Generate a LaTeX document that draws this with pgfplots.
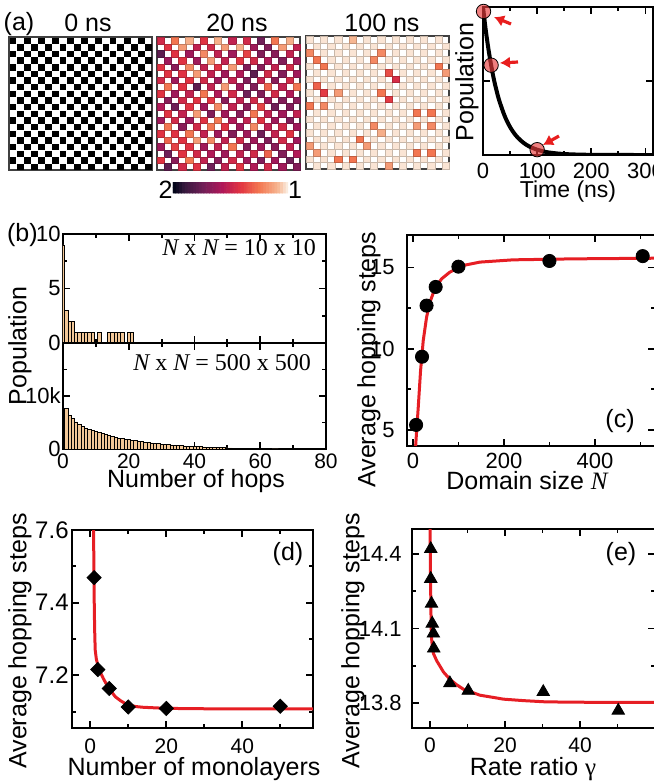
\documentclass[border=0pt]{standalone}
\usepackage{pgfplots}
\pgfplotsset{compat=1.18}
\usepackage{pgfplotstable}
\usepackage{fontspec}
\setmainfont{Liberation Sans}
\newfontfamily\tnr{Liberation Serif}
\usetikzlibrary{arrows.meta}

\definecolor{fitred}{RGB}{230,30,36}
\definecolor{barfill}{RGB}{243,200,152}
\definecolor{dotred}{RGB}{232,60,60}
\definecolor{arrred}{RGB}{232,30,30}

\newcommand\lf{\fontsize{12.5}{15}\selectfont}
\newcommand\tf{\fontsize{11}{13}\selectfont}

\pgfplotsset{
  colormap={rocketmap}{rgb255(0cm)=(250,235,221); rgb255(1cm)=(246,180,143); rgb255(3cm)=(243,118,81); rgb255(5cm)=(225,51,66); rgb255(7cm)=(173,23,89); rgb255(9cm)=(112,31,87); rgb255(11cm)=(53,25,62); rgb255(12cm)=(3,5,26)},
  frame/.style={scale only axis, anchor=south west, axis line style={line width=1pt}, tick style={line width=0.9pt, black}, major tick length=3.5pt, minor tick length=2.2pt, tick label style={font=\tf}, /pgf/number format/assume math mode=true},
  xgap/.style={xticklabel style={inner sep=0pt, yshift=-#1}},
  ygap/.style={yticklabel style={inner sep=0pt, xshift=-#1}},
  heat/.style={scale only axis, anchor=south west, width=71.5pt, height=66.5pt, xmin=-0.5, xmax=19.5, ymin=-0.5, ymax=19.5, y dir=reverse, ticks=none, axis line style={line width=0.7pt, black!75}, colormap name=rocketmap, point meta min=1, point meta max=2},
  cell/.style={only marks, mark=square*, mark size=1.79pt, mark options={yscale=0.93, line width=0.1pt}},
}

% 20 ns occupation of the checkerboard sites (column, row, value)
\pgfplotstableread[row sep=\\]{
c r v\\
0 0 1.47\\ 2 0 1.25\\ 4 0 1.1\\ 6 0 1.42\\ 8 0 1.1\\ 10 0 1.52\\ 12 0 1.47\\ 14 0 1.75\\ 16 0 1.25\\ 18 0 1.1\\
1 1 1.42\\ 3 1 1.15\\ 5 1 1.52\\ 7 1 1.47\\ 9 1 1.15\\ 11 1 1.1\\ 13 1 1.62\\ 15 1 1.7\\ 17 1 1.15\\ 19 1 1.52\\
0 2 1.8\\ 2 2 1.42\\ 4 2 1.62\\ 6 2 1.2\\ 8 2 1.52\\ 10 2 1.62\\ 12 2 1.38\\ 14 2 1.7\\ 16 2 1.68\\ 18 2 1.52\\
1 3 1.62\\ 3 3 1.42\\ 5 3 1.62\\ 7 3 1.15\\ 9 3 1.52\\ 11 3 1.42\\ 13 3 1.47\\ 15 3 1.57\\ 17 3 1.7\\ 19 3 1.62\\
0 4 1.42\\ 2 4 1.68\\ 4 4 1.2\\ 6 4 1.52\\ 8 4 1.42\\ 10 4 1.15\\ 12 4 1.7\\ 14 4 1.68\\ 16 4 1.52\\ 18 4 1.47\\
1 5 1.42\\ 3 5 1.42\\ 5 5 1.15\\ 7 5 1.52\\ 9 5 1.62\\ 11 5 1.57\\ 13 5 1.8\\ 15 5 1.47\\ 17 5 1.7\\ 19 5 1.62\\
0 6 1.47\\ 2 6 1.62\\ 4 6 1.42\\ 6 6 1.47\\ 8 6 1.62\\ 10 6 1.52\\ 12 6 1.7\\ 14 6 1.52\\ 16 6 1.68\\ 18 6 1.47\\
1 7 1.25\\ 3 7 1.42\\ 5 7 1.8\\ 7 7 1.52\\ 9 7 1.15\\ 11 7 1.62\\ 13 7 1.7\\ 15 7 1.3\\ 17 7 1.52\\ 19 7 1.25\\
0 8 1.42\\ 2 8 1.62\\ 4 8 1.52\\ 6 8 1.25\\ 8 8 1.57\\ 10 8 1.47\\ 12 8 1.75\\ 14 8 1.7\\ 16 8 1.47\\ 18 8 1.57\\
1 9 1.68\\ 3 9 1.47\\ 5 9 1.42\\ 7 9 1.42\\ 9 9 1.68\\ 11 9 1.52\\ 13 9 1.47\\ 15 9 1.62\\ 17 9 1.7\\ 19 9 1.68\\
0 10 1.57\\ 2 10 1.75\\ 4 10 1.42\\ 6 10 1.62\\ 8 10 1.2\\ 10 10 1.52\\ 12 10 1.68\\ 14 10 1.38\\ 16 10 1.75\\ 18 10 1.7\\
1 11 1.42\\ 3 11 1.52\\ 5 11 1.15\\ 7 11 1.7\\ 9 11 1.62\\ 11 11 1.68\\ 13 11 1.25\\ 15 11 1.52\\ 17 11 1.62\\ 19 11 1.52\\
0 12 1.62\\ 2 12 1.47\\ 4 12 1.62\\ 6 12 1.42\\ 8 12 1.25\\ 10 12 1.57\\ 12 12 1.52\\ 14 12 1.42\\ 16 12 1.62\\ 18 12 1.7\\
1 13 1.25\\ 3 13 1.68\\ 5 13 1.47\\ 7 13 1.25\\ 9 13 1.42\\ 11 13 1.62\\ 13 13 1.2\\ 15 13 1.52\\ 17 13 1.47\\ 19 13 1.62\\
0 14 1.42\\ 2 14 1.42\\ 4 14 1.25\\ 6 14 1.52\\ 8 14 1.62\\ 10 14 1.7\\ 12 14 1.62\\ 14 14 1.75\\ 16 14 1.52\\ 18 14 1.42\\
1 15 1.3\\ 3 15 1.42\\ 5 15 1.15\\ 7 15 1.2\\ 9 15 1.52\\ 11 15 1.47\\ 13 15 1.62\\ 15 15 1.7\\ 17 15 1.47\\ 19 15 1.62\\
0 16 1.62\\ 2 16 1.38\\ 4 16 1.42\\ 6 16 1.62\\ 8 16 1.52\\ 10 16 1.25\\ 12 16 1.7\\ 14 16 1.62\\ 16 16 1.68\\ 18 16 1.52\\
1 17 1.75\\ 3 17 1.42\\ 5 17 1.47\\ 7 17 1.57\\ 9 17 1.62\\ 11 17 1.52\\ 13 17 1.47\\ 15 17 1.3\\ 17 17 1.7\\ 19 17 1.57\\
0 18 1.42\\ 2 18 1.68\\ 4 18 1.25\\ 6 18 1.52\\ 8 18 1.68\\ 10 18 1.47\\ 12 18 1.62\\ 14 18 1.7\\ 16 18 1.62\\ 18 18 1.75\\
1 19 1.8\\ 3 19 1.47\\ 5 19 1.42\\ 7 19 1.75\\ 9 19 1.52\\ 11 19 1.42\\ 13 19 1.57\\ 15 19 1.47\\ 17 19 1.62\\ 19 19 1.7\\
}\mapB

% 100 ns: sites still clearly occupied (all other sites about 1.01)
\pgfplotstableread[row sep=\\]{
c r v\\
0 2 1.2\\ 1 3 1.25\\ 2 4 1.25\\ 10 2 1.2\\ 9 3 1.2\\ 18 4 1.25\\ 19 5 1.15\\ 11 5 1.35\\ 12 6 1.45\\ 1 7 1.3\\
2 8 1.4\\ 4 8 1.15\\ 10 8 1.25\\ 11 9 1.4\\ 0 10 1.25\\ 2 10 1.2\\ 15 11 1.25\\ 17 11 1.25\\ 9 13 1.2\\ 15 13 1.15\\
17 13 1.2\\ 10 14 1.1\\ 7 15 1.25\\ 8 16 1.15\\ 0 16 1.15\\ 1 17 1.15\\ 15 17 1.25\\ 17 17 1.25\\ 4 18 1.25\\ 6 18 1.25\\
11 19 1.15\\ 6 0 1.08\\
}\mapC

\begin{document}
\begin{tikzpicture}[x=0.5pt, y=-0.5pt]
\useasboundingbox (0,0) rectangle (654,783);

% ---------------- (a) ----------------
\node[anchor=base, font=\lf] at (19,30) {(a)};
\node[anchor=base, font=\lf] at (88,31.5) {0 ns};
\node[anchor=base, font=\lf] at (237,31.5) {20 ns};
\node[anchor=base, font=\lf] at (382,31.5) {100 ns};

\begin{axis}[heat, at={(4.5pt,-85pt)}]
\addplot[only marks, mark=square*, mark size=1.45pt, mark options={yscale=0.93, fill=black, draw=black, line width=0.1pt}] table[x=c, y=r] {\mapB};
\end{axis}

\begin{axis}[heat, at={(78.5pt,-85pt)}]
\addplot[scatter, cell, point meta=explicit] table[x=c, y=r, meta=v] {\mapB};
\end{axis}

\begin{axis}[heat, at={(153pt,-84.5pt)}]
\addplot[scatter, cell, point meta=explicit] table[x=c, y=r, meta expr=1.01] {\mapB};
\addplot[scatter, cell, point meta=explicit] table[x=c, y=r, meta=v] {\mapC};
\end{axis}

% colour bar
\begin{axis}[at={(86.5pt,-96.5pt)}, anchor=south west, scale only axis, width=57.5pt, height=5.5pt, hide axis,
  xmin=0.9875, xmax=2.0125, ymin=-0.5, ymax=1.5, x dir=reverse, colormap name=rocketmap, point meta min=1, point meta max=2]
\addplot[matrix plot*, mesh/cols=41, mesh/rows=2, point meta=x] coordinates {
(1.000,0) (1.025,0) (1.050,0) (1.075,0) (1.100,0) (1.125,0) (1.150,0) (1.175,0) (1.200,0) (1.225,0) (1.250,0) (1.275,0) (1.300,0) (1.325,0) (1.350,0) (1.375,0) (1.400,0) (1.425,0) (1.450,0) (1.475,0) (1.500,0) (1.525,0) (1.550,0) (1.575,0) (1.600,0) (1.625,0) (1.650,0) (1.675,0) (1.700,0) (1.725,0) (1.750,0) (1.775,0) (1.800,0) (1.825,0) (1.850,0) (1.875,0) (1.900,0) (1.925,0) (1.950,0) (1.975,0) (2.000,0)

(1.000,1) (1.025,1) (1.050,1) (1.075,1) (1.100,1) (1.125,1) (1.150,1) (1.175,1) (1.200,1) (1.225,1) (1.250,1) (1.275,1) (1.300,1) (1.325,1) (1.350,1) (1.375,1) (1.400,1) (1.425,1) (1.450,1) (1.475,1) (1.500,1) (1.525,1) (1.550,1) (1.575,1) (1.600,1) (1.625,1) (1.650,1) (1.675,1) (1.700,1) (1.725,1) (1.750,1) (1.775,1) (1.800,1) (1.825,1) (1.850,1) (1.875,1) (1.900,1) (1.925,1) (1.950,1) (1.975,1) (2.000,1)
};
\end{axis}
\node[anchor=base, font=\lf] at (165.5,198) {2};
\node[anchor=base, font=\lf] at (295,198) {1};

% population decay
\begin{axis}[frame, xgap=4pt, at={(241.5pt,-77.5pt)}, width=85pt, height=74pt, xmin=0, xmax=314, ymin=0, ymax=1,
  xtick={0,100,200,300}, minor xtick={50,150,250}, ytick={0.5}, yticklabels=\empty]
\addplot[black, line width=2pt, smooth] coordinates {(0,1) (5,0.846) (10,0.717) (15,0.607) (20,0.513) (25,0.435) (30,0.368) (40,0.264) (50,0.189) (60,0.135) (70,0.097) (80,0.069) (90,0.050) (100,0.036) (110,0.026) (120,0.018) (140,0.0094) (160,0.0048) (180,0.0025) (200,0.0013) (250,0.0002) (314,0)};
\addplot[only marks, mark=*, mark size=3.6pt, mark options={fill=dotred, draw=none, fill opacity=0.65}] coordinates {(1,0.97) (15,0.607) (100,0.036)};
\end{axis}
\draw[arrred, line width=1.6pt, -{Latex[length=5pt, width=6pt]}] (511,24) -- (494,17);
\draw[arrred, line width=1.6pt, -{Latex[length=5pt, width=6pt]}] (518,62) -- (500,63);
\draw[arrred, line width=1.6pt, -{Latex[length=5pt, width=6pt]}] (559,136) -- (543,145);
\node[rotate=90, font=\lf] at (467,82) {Population};
\node[anchor=base, font=\fontsize{11.5}{14}\selectfont] at (568,197) {Time (ns)};

% ---------------- (b) ----------------
\begin{axis}[frame, ygap=1pt, at={(31.5pt,-171.5pt)}, width=131.5pt, height=54.5pt, xmin=0, xmax=80, ymin=0, ymax=10,
  xtick={0,20,40,60,80}, minor xtick={10,30,50,70}, xticklabels=\empty, ytick={0,5,10}, minor ytick={2.5,7.5}]
\addplot[ybar, bar width=1, bar shift=0pt, fill=barfill, draw=black, line width=0.3pt] coordinates {
(0,9) (1,3) (2,2) (3,2) (4,1) (5,1) (6,1) (7,1) (8,1) (9,1) (11,1) (14,1) (15,1) (16,1) (17,1) (18,1) (20,1) (21,1)};
\end{axis}
\begin{axis}[frame, xgap=2pt, ygap=1pt, at={(31.5pt,-224.5pt)}, width=131.5pt, height=53pt, xmin=0, xmax=80, ymin=0, ymax=20000,
  xtick={0,20,40,60,80}, minor xtick={10,30,50,70}, ytick={0,10000}, yticklabels={0,10k}, minor ytick={5000,15000}, scaled y ticks=false,
  xticklabel style={font=\fontsize{10.5}{12}\selectfont}]
\addplot[ybar, bar width=1, bar shift=0pt, fill=barfill, draw=black, line width=0.3pt] coordinates {
(1,7700) (2,6300) (3,5700) (4,5100) (5,4650) (6,4300) (7,4000) (8,3750) (9,3500) (10,3300)
(11,3100) (12,2900) (13,2700) (14,2500) (15,2350) (16,2200) (17,2050) (18,1950) (19,1850) (20,1750)
(21,1650) (22,1550) (23,1450) (24,1370) (25,1290) (26,1210) (27,1140) (28,1070) (29,1000) (30,940)
(31,880) (32,830) (33,780) (34,730) (35,690) (36,640) (37,600) (38,560) (39,520) (40,480)
(41,450) (42,420) (43,390) (44,360) (45,330) (46,300) (47,280) (48,260) (49,240) (50,220)
(51,200) (52,180) (53,160) (54,145) (55,130) (56,115) (57,100) (58,90) (59,80) (60,70)
(61,60) (62,50) (63,40) (64,30) (65,25)};
\end{axis}
\node[anchor=base west, font=\lf] at (0,241) {(b)};
\node[rotate=90, font=\lf] at (20,346) {Population};
\node[anchor=base, font=\lf] at (196,487) {Number of hops};
\node[anchor=base east, font=\tnr\fontsize{12}{14}\selectfont] at (323,255) {\itshape N\upshape{} x \itshape N\upshape{} = 10 x 10};
\node[anchor=base east, font=\tnr\fontsize{12}{14}\selectfont] at (318,370) {\itshape N\upshape{} x \itshape N\upshape{} = 500 x 500};

% ---------------- (c) ----------------
\begin{axis}[frame, xgap=3.5pt, ygap=6pt, at={(203.5pt,-223pt)}, width=124pt, height=105.5pt, xmin=-13, xmax=532, ymin=4, ymax=17,
  xtick={0,200,400}, minor xtick={100,300,500}, ytick={5,10,15}, minor ytick={7.5,12.5}]
\addplot[only marks, mark=*, mark size=3.3pt, black] coordinates {(7,5.3) (20,9.5) (30,12.65) (50,13.8) (100,15.05) (300,15.4) (505,15.7)};
\addplot[fitred, line width=1.5pt] coordinates {(6,4.0) (8,4.85) (11.7,6.38) (16.8,8.64) (22.7,10.5) (30,11.93) (37.4,12.86) (48,13.68) (63,14.3) (81,14.71) (110,15.12) (147,15.33) (220,15.47) (350,15.53) (532,15.57)};
\end{axis}
\node[rotate=90, font=\lf] at (369,360) {Average hopping steps};
\node[anchor=base, font=\lf] at (527,489) {Domain size {\tnr\itshape N}};
\node[font=\lf] at (620,421) {(c)};

% ---------------- (d) ----------------
\begin{axis}[frame, xgap=5pt, ygap=1.5pt, at={(36pt,-364pt)}, width=120.5pt, height=99pt, xmin=-4.8, xmax=58.6, ymin=7.055, ymax=7.6,
  xtick={0,20,40}, minor xtick={10,30,50}, ytick={7.2,7.4,7.6}, yticklabels={7.2,7.4,7.6}, minor ytick={7.1,7.3,7.5},
  yticklabel style={font=\fontsize{12}{14}\selectfont}, xticklabel style={font=\fontsize{10.5}{12}\selectfont}]
\addplot[fitred, line width=1.5pt] coordinates {(0.85,7.65) (0.95,7.5) (1.05,7.4) (1.15,7.33) (1.3,7.27) (1.6,7.245) (1.9,7.232) (2.6,7.209) (3.5,7.19) (4.4,7.173) (5.5,7.156) (6.6,7.141) (8,7.13) (9.6,7.12) (12,7.114) (14,7.112) (20.2,7.109) (30,7.108) (58.6,7.108)};
\addplot[only marks, mark=square*, mark size=2.5pt, mark options={rotate=45}, black] coordinates {(1,7.469) (2,7.216) (5,7.164) (10,7.113) (20,7.109) (50,7.115)};
\end{axis}
\node[rotate=90, font=\lf] at (20,641) {Average hopping steps};
\node[anchor=base, font=\lf] at (194,775) {Number of monolayers};
\node[font=\lf] at (288,554) {(d)};

% ---------------- (e) ----------------
\begin{axis}[frame, xgap=4.5pt, ygap=5pt, at={(206pt,-364pt)}, width=121.5pt, height=99.5pt, xmin=-4.8, xmax=60, ymin=13.7, ymax=14.5,
  xtick={0,20,40}, minor xtick={10,30,50}, ytick={13.8,14.1,14.4}, yticklabels={13.8,14.1,14.4}, minor ytick={13.95,14.25},
  xticklabel style={font=\fontsize{10.5}{12}\selectfont}]
\addplot[fitred, line width=1.5pt] coordinates {(0,14.55) (0.1,14.35) (0.18,14.256) (0.27,14.15) (0.36,14.07) (0.6,14.03) (0.9,14.0) (1.8,13.97) (3.6,13.925) (5.3,13.896) (7,13.875) (8.9,13.856) (13.3,13.832) (19.6,13.816) (25,13.81) (31,13.805) (45,13.803) (60,13.803)};
\addplot[only marks, mark=triangle*, mark size=3.6pt, black] coordinates {(0.2,14.42) (0.2,14.30) (0.4,14.20) (0.6,14.12) (0.9,14.08) (1.0,14.02) (5.3,13.88) (10.2,13.85) (30.2,13.845) (50.2,13.77)};
\end{axis}
\node[rotate=90, font=\lf] at (353,641) {Average hopping steps};
\node[anchor=base, font=\lf] at (533,775) {Rate ratio {\tnr γ}};
\node[font=\lf] at (621,554) {(e)};
\end{tikzpicture}
\end{document}
